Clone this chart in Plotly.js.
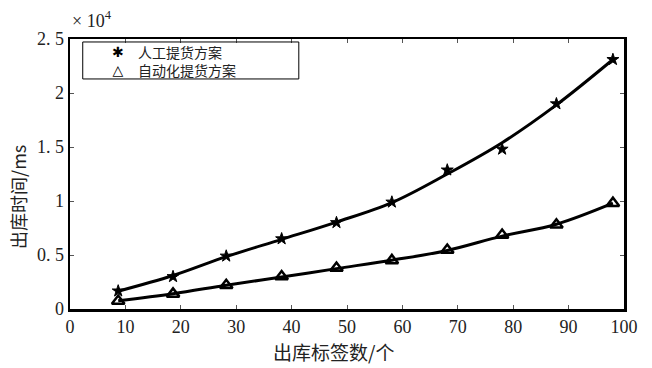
<!DOCTYPE html>
<html><head><meta charset="utf-8">
<script src="https://cdn.plot.ly/plotly-3.0.1.min.js"></script>
<style>body{margin:0;background:#fff}#c{width:652px;height:368px}</style>
</head><body><div id="c"></div>
<script>
const labelCounts = [8.7, 18.6, 28.2, 38.2, 48.1, 58.1, 68.1, 78, 87.8, 98];
const manualPoints = [1670, 3000, 4900, 6500, 8000, 9900, 12870, 14800, 19000, 23100];
const manualFit = [1650, 3100, 4850, 6450, 8050, 9850, 12500, 15400, 18900, 23100];
const autoPoints = [740, 1400, 2200, 3000, 3800, 4500, 5460, 6850, 7800, 9800];
const autoFit = [760, 1420, 2200, 2960, 3740, 4520, 5420, 6750, 7850, 9800];
const seriesNames = ['人工提货方案', '自动化提货方案'];
const legendGlyphs = ['✱', '△'];
const yTickVals = [0, 5000, 10000, 15000, 20000, 25000];
const yTickText = ['0', '0. 5', '1', '1. 5', '2', '2. 5'];
const xTickVals = [0, 10, 20, 30, 40, 50, 60, 70, 80, 90, 100];
const xTitle = '出库标签数/个';
const yTitle = '出库时间/ms';

const serif = 'Liberation Serif, Times New Roman, serif';
const cjk = 'Noto Sans CJK SC, sans-serif';

const traces = [
  {x: labelCounts, y: manualFit, mode: 'lines', line: {color: '#000', width: 3, shape: 'spline'}, showlegend: false, hoverinfo: 'skip'},
  {x: labelCounts, y: autoFit, mode: 'lines', line: {color: '#000', width: 3, shape: 'spline'}, showlegend: false, hoverinfo: 'skip'},
  {x: labelCounts, y: manualPoints, mode: 'markers', name: seriesNames[0], showlegend: false,
   marker: {symbol: 'star', size: 9, color: '#000', line: {color: '#000', width: 1}}},
  {x: labelCounts, y: autoPoints, mode: 'markers', name: seriesNames[1], showlegend: false,
   marker: {symbol: 'triangle-up-open', size: 11, color: '#000', line: {color: '#000', width: 2.5}}}
];

const layout = {
  width: 652, height: 368,
  margin: {l: 70, r: 28, t: 39, b: 59},
  paper_bgcolor: '#fff', plot_bgcolor: '#fff',
  showlegend: false,
  xaxis: {range: [0, 100], tickvals: xTickVals, ticks: 'inside', ticklen: 4, tickcolor: '#555',
    showline: true, linecolor: '#000', linewidth: 2.5, mirror: 'allticks', showgrid: false, zeroline: false,
    tickfont: {family: serif, size: 18, color: '#222'}},
  yaxis: {range: [0, 25000], tickvals: yTickVals, ticktext: yTickText, ticks: 'inside', ticklen: 4, tickcolor: '#555',
    showline: true, linecolor: '#000', linewidth: 2.5, mirror: 'allticks', showgrid: false, zeroline: false,
    tickfont: {family: serif, size: 18, color: '#222'}},
  shapes: [{type: 'rect', xref: 'paper', yref: 'paper', x0: 0.023, x1: 0.413, y0: 0.852, y1: 0.989,
    line: {color: '#000', width: 1}}],
  annotations: [
    {xref: 'paper', yref: 'paper', x: 0.0, y: 1.0, xanchor: 'left', yanchor: 'bottom', yshift: 6,
     showarrow: false, text: '× 10<sup>4</sup>', font: {family: serif, size: 18, color: '#222'}},
    {xref: 'paper', yref: 'paper', x: 0.4765, y: -0.159, xanchor: 'center', yanchor: 'middle',
     showarrow: false, text: xTitle, font: {family: cjk, size: 19, color: '#222'}},
    {xref: 'paper', yref: 'paper', x: -0.0939, y: 0.415, xanchor: 'center', yanchor: 'middle', textangle: -90,
     showarrow: false, text: yTitle, font: {family: cjk, size: 18, color: '#222'}},
    {xref: 'paper', yref: 'paper', x: 0.0866, y: 0.92, xanchor: 'center', yanchor: 'middle', align: 'center',
     showarrow: false, text: '<b>' + legendGlyphs.join('<br>') + '</b>', font: {family: 'DejaVu Sans, sans-serif', size: 14, color: '#000'}},
    {xref: 'paper', yref: 'paper', x: 0.1191, y: 0.92, xanchor: 'left', yanchor: 'middle', align: 'left',
     showarrow: false, text: seriesNames.join('<br>'), font: {family: cjk, size: 14, color: '#222'}}
  ]
};
Plotly.newPlot('c', traces, layout, {displayModeBar: false, staticPlot: true});
</script></body></html>
